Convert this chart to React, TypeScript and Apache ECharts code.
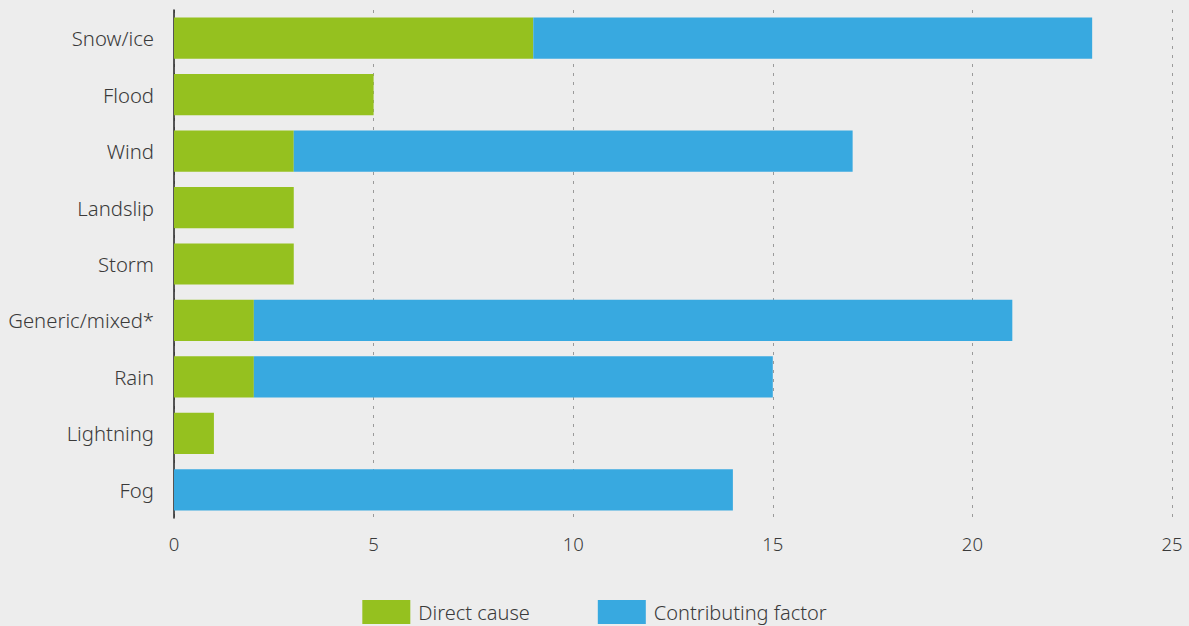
import React, { useEffect, useRef } from "react";
import * as echarts from "echarts";

const categories = ["Snow/ice", "Flood", "Wind", "Landslip", "Storm", "Generic/mixed*", "Rain", "Lightning", "Fog"];
const directCause = [9, 5, 3, 3, 3, 2, 2, 1, 0];
const contributingFactor = [14, 0, 14, 0, 0, 19, 13, 0, 14];
const seriesNames = ["Direct cause", "Contributing factor"];

export default function App() {
  const ref = useRef<HTMLDivElement>(null);
  useEffect(() => {
    document.body.style.margin = "0";
    const chart = echarts.init(ref.current!, null, { renderer: "svg" });
    const font = "'Noto Sans', sans-serif";
    chart.setOption({
      animation: false,
      backgroundColor: "#ededed",
      textStyle: { fontFamily: font },
      grid: { left: 174, right: 17, top: 10, bottom: 108, containLabel: false },
      legend: {
        bottom: 2,
        left: "center",
        padding: 0,
        itemWidth: 48,
        itemHeight: 24,
        itemGap: 68,
        icon: "rect",
        textStyle: { fontSize: 20, fontWeight: 300, color: "#3a3a3a", fontFamily: font, padding: [0, 0, 0, 3] },
        data: seriesNames,
      },
      xAxis: {
        type: "value",
        min: 0,
        max: 25,
        interval: 5,
        axisLine: { show: false },
        axisTick: { show: false },
        axisLabel: { fontSize: 18.5, fontWeight: 300, color: "#3a3a3a", margin: 16, fontFamily: font },
        splitLine: { show: true, lineStyle: { color: "#9a9a9a", type: [3, 6], width: 1 } },
      },
      yAxis: {
        type: "category",
        data: categories,
        inverse: true,
        axisLine: { show: true, lineStyle: { color: "#222", width: 1.5 } },
        axisTick: { show: false },
        axisLabel: { fontSize: 20.3, fontWeight: 300, color: "#3a3a3a", margin: 20, fontFamily: font },
        splitLine: { show: false },
      },
      series: [
        {
          name: seriesNames[0],
          type: "bar",
          stack: "total",
          data: directCause,
          barCategoryGap: "27%",
          itemStyle: { color: "#95c11f" },
        },
        {
          name: seriesNames[1],
          type: "bar",
          stack: "total",
          data: contributingFactor,
          barCategoryGap: "27%",
          itemStyle: { color: "#38a9e0" },
        },
      ],
    });
    return () => chart.dispose();
  }, []);
  return <div ref={ref} style={{ width: 1189, height: 626 }} />;
}
